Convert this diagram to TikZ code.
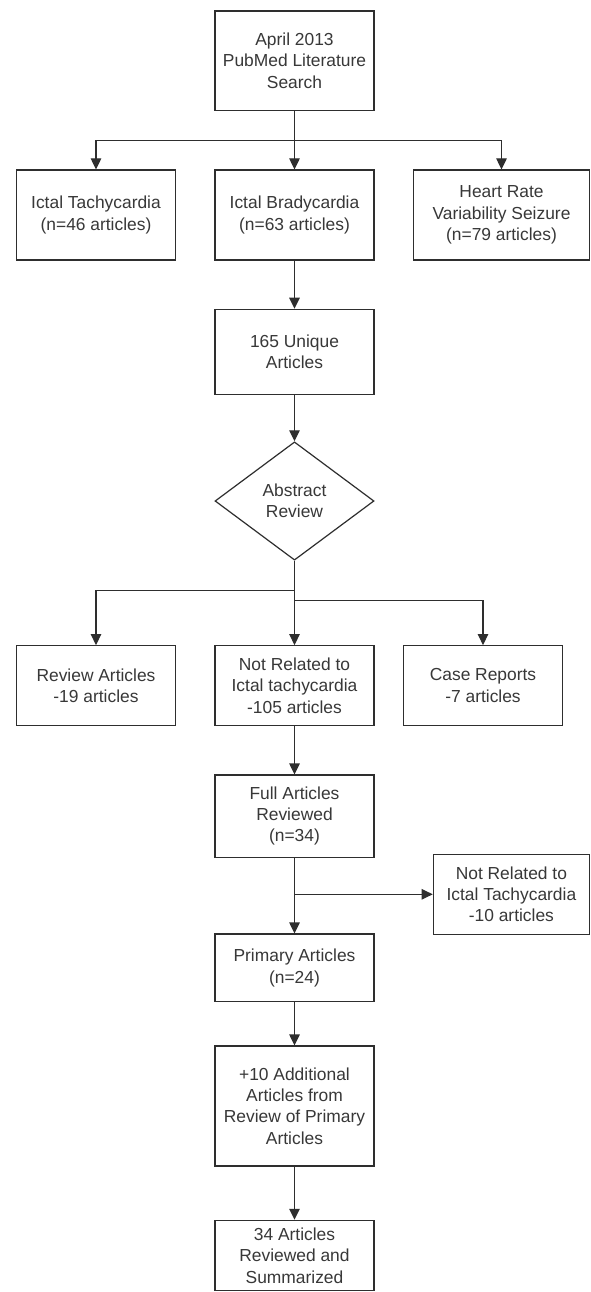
\documentclass[tikz,border=0pt]{standalone}
\usepackage{fontspec}
\setmainfont{Liberation Sans}
\usetikzlibrary{arrows.meta,shapes.geometric}
\begin{document}
\begin{tikzpicture}[x=1pt,y=-1pt,
  every node/.style={font=\fontsize{17.4pt}{21.3pt}\selectfont, text=black!78},
  box/.style={draw=black!82, line width=1.2pt, rectangle, align=center, inner sep=2pt, minimum width=159pt},
  dec/.style={draw=black!82, line width=1.2pt, diamond, align=center, inner sep=1pt, minimum width=159pt, minimum height=118.3pt, shape aspect=1.34},
  arr/.style={draw=black!82, line width=1.2pt, -{Triangle[length=11pt,width=10.5pt]}},
  ln/.style={draw=black!82, line width=1.2pt}]
\useasboundingbox (0,0) rectangle (590,1292);
\fill[white] (0,0) rectangle (590,1292);

\node[box, minimum height=99.3pt] (top) at (294.5,60.65) {April 2013\\PubMed Literature\\Search};
\node[box, minimum height=90pt] (tach) at (96,215) {Ictal Tachycardia\\(n=46 articles)};
\node[box, minimum height=90pt] (brady) at (294.5,215) {Ictal Bradycardia\\(n=63 articles)};
\node[box, minimum height=90pt, minimum width=176.5pt] (hrv) at (501.5,215) {Heart Rate\\Variability Seizure\\(n=79 articles)};
\node[box, minimum height=85pt] (uniq) at (294.5,351.8) {165 Unique\\Articles};
\node[dec] (abs) at (294.5,501) {Abstract\\Review};
\node[box, minimum height=79.6pt] (rev) at (96,685.5) {Review Articles\\-19 articles};
\node[box, minimum height=79.6pt] (notrel) at (294.5,685.5) {Not Related to\\Ictal tachycardia\\-105 articles};
\node[box, minimum height=79.6pt] (case) at (483,685.5) {Case Reports\\-7 articles};
\node[box, minimum height=82.3pt] (full) at (294.5,816.15) {Full Articles\\Reviewed\\(n=34)};
\node[box, minimum height=80pt, minimum width=156.2pt] (side) at (511.4,894.3) {Not Related to\\Ictal Tachycardia\\-10 articles};
\node[box, minimum height=67.7pt] (prim) at (294.5,967.85) {Primary Articles\\(n=24)};
\node[box, minimum height=120pt] (add) at (294.5,1106) {+10 Additional\\Articles from\\Review of Primary\\Articles};
\node[box, minimum height=70.5pt] (final) at (294.5,1255.6) {34 Articles\\Reviewed and\\Summarized};

\coordinate (b1) at (294.5,140.7);
\coordinate (b2) at (294.5,590.7);
\coordinate (b3) at (294.5,600.7);
\coordinate (b4) at (294.5,894.3);

\draw[arr] (top.south) -- (brady.north);
\draw[arr] (b1) -| (tach.north);
\draw[arr] (b1) -| (hrv.north);
\draw[arr] (brady.south) -- (uniq.north);
\draw[arr] (uniq.south) -- (abs.north);
\draw[arr] (abs.south) -- (notrel.north);
\draw[arr] (b2) -| (rev.north);
\draw[arr] (b3) -| (case.north);
\draw[arr] (notrel.south) -- (full.north);
\draw[arr] (full.south) -- (prim.north);
\draw[arr] (b4) -- (side.west);
\draw[arr] (prim.south) -- (add.north);
\draw[arr] (add.south) -- (final.north);
\end{tikzpicture}
\end{document}
